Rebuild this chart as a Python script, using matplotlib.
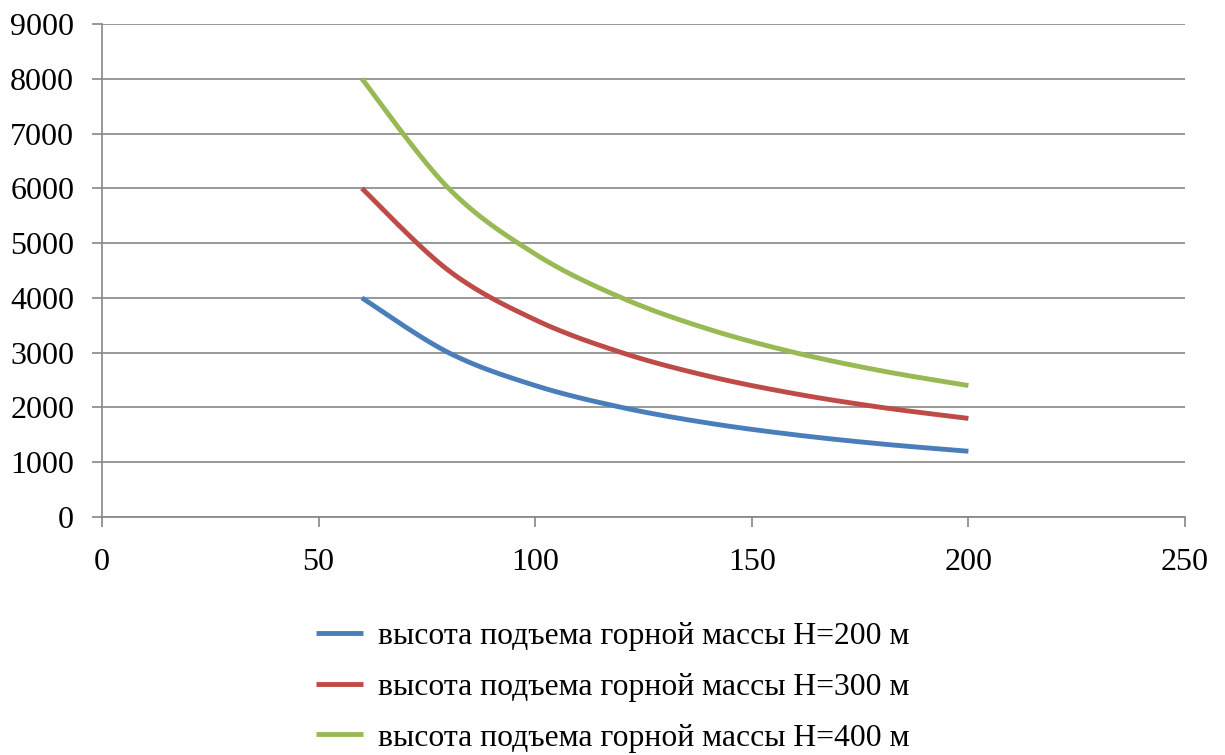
import numpy as np
import matplotlib
matplotlib.use("Agg")
import matplotlib.pyplot as plt

x_vals = [60, 80, 100, 120, 140, 160, 180, 200]
h200 = [4000, 3000, 2400, 2000, 1714, 1500, 1333, 1200]
h300 = [6000, 4500, 3600, 3000, 2571, 2250, 2000, 1800]
h400 = [8000, 6000, 4800, 4000, 3429, 3000, 2667, 2400]
labels = ["высота подъема горной массы Н=200 м",
          "высота подъема горной массы Н=300 м",
          "высота подъема горной массы Н=400 м"]
colors = ["#4A7EBB", "#BE4B48", "#98B954"]
x_ticks = [0, 50, 100, 150, 200, 250]
y_ticks = list(range(0, 9001, 1000))


def smooth(xs, ys, n=30):
    xs = np.asarray(xs, float)
    ys = np.asarray(ys, float)
    P = np.column_stack([xs, ys])
    out = [P[0]]
    for i in range(len(P) - 1):
        p0 = P[i - 1] if i > 0 else P[i]
        p1 = P[i]
        p2 = P[i + 1]
        p3 = P[i + 2] if i + 2 < len(P) else P[i + 1]
        c1 = p1 + (p2 - p0) / 6.0
        c2 = p2 - (p3 - p1) / 6.0
        t = np.linspace(0, 1, n)[1:, None]
        seg = ((1 - t) ** 3) * p1 + 3 * ((1 - t) ** 2) * t * c1 + 3 * (1 - t) * t ** 2 * c2 + t ** 3 * p2
        out.extend(seg)
    out = np.array(out)
    return out[:, 0], out[:, 1]


plt.rcParams['font.family'] = ['Liberation Serif', 'DejaVu Serif']
fig = plt.figure(figsize=(12.25, 7.55), dpi=100)
ax = fig.add_axes([102 / 1225, 1 - 517 / 755, (1185 - 102) / 1225, (517 - 24) / 755])

for ys, c, lab in zip([h200, h300, h400], colors, labels):
    sx, sy = smooth(x_vals, ys)
    ax.plot(sx, sy, color=c, lw=3.5, label=lab, solid_capstyle='butt')

ax.set_xlim(0, 250)
ax.set_ylim(0, 9000)
ax.set_xticks(x_ticks)
ax.set_yticks(y_ticks)
ax.yaxis.grid(True, color="#868686", lw=1.2)
ax.set_axisbelow(True)
for s in ["top", "right"]:
    ax.spines[s].set_visible(False)
for s in ["left", "bottom"]:
    ax.spines[s].set_color("#868686")
    ax.spines[s].set_linewidth(1.2)
ax.tick_params(axis='both', colors="#868686", length=7, width=1.2, labelsize=23, labelcolor='black')
ax.tick_params(axis='x', pad=15)
ax.tick_params(axis='y', pad=13)

leg = fig.legend(loc='upper center', bbox_to_anchor=(0.5, 1 - 622 / 755), frameon=False,
                 fontsize=22.8, handlelength=1.5, handletextpad=0.45, labelspacing=0.68,
                 borderpad=0, borderaxespad=0)

fig.savefig("out.png", dpi=100)
